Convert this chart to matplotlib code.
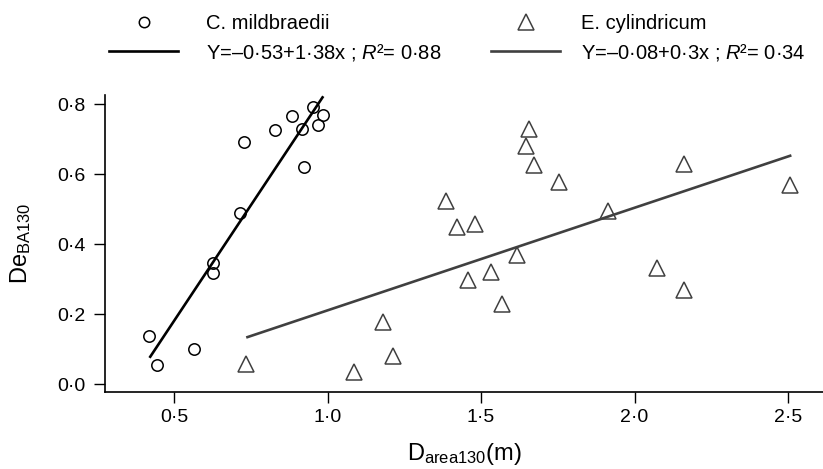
import matplotlib.pyplot as plt
from matplotlib.lines import Line2D
from matplotlib.ticker import FuncFormatter

plt.rcParams['font.family'] = ['Liberation Sans', 'DejaVu Sans']
plt.rcParams['mathtext.fontset'] = 'custom'
plt.rcParams['mathtext.rm'] = 'Liberation Sans'
plt.rcParams['mathtext.it'] = 'Liberation Sans:italic'

# C. mildbraedii (circles)
cm_x = [0.419, 0.444, 0.564, 0.628, 0.628, 0.715, 0.727, 0.828, 0.883, 0.918, 0.923, 0.954, 0.969, 0.986]
cm_y = [0.137, 0.055, 0.099, 0.345, 0.318, 0.488, 0.692, 0.726, 0.767, 0.730, 0.621, 0.791, 0.740, 0.770]
cm_fit_x = [0.420, 0.986]
cm_fit_y = [0.075, 0.823]

# E. cylindricum (triangles)
ec_x = [0.735, 1.085, 1.181, 1.213, 1.387, 1.422, 1.459, 1.480, 1.534, 1.568,
        1.616, 1.648, 1.655, 1.673, 1.755, 1.915, 2.074, 2.161, 2.162, 2.508]
ec_y = [0.057, 0.035, 0.178, 0.080, 0.523, 0.448, 0.297, 0.459, 0.321, 0.230,
        0.370, 0.680, 0.728, 0.625, 0.578, 0.494, 0.332, 0.630, 0.270, 0.568]
ec_fit_x = [0.735, 2.511]
ec_fit_y = [0.133, 0.654]

xticks = [0.5, 1.0, 1.5, 2.0, 2.5]
yticks = [0.0, 0.2, 0.4, 0.6, 0.8]

grey = '#404040'

fig = plt.figure(figsize=(8.23, 4.69), dpi=100)
ax = fig.add_axes([0.1276, 0.164, 0.8724, 0.633])

ax.plot(cm_x, cm_y, 'o', ms=8.2, mfc='none', mec='black', mew=1.1)
ax.plot(ec_x, ec_y, '^', ms=11, mfc='none', mec=grey, mew=1.1)
ax.plot(cm_fit_x, cm_fit_y, color='black', lw=1.9, solid_capstyle='butt')
ax.plot(ec_fit_x, ec_fit_y, color=grey, lw=1.9, solid_capstyle='butt')

ax.set_xlim(0.275, 2.614)
ax.set_ylim(-0.023, 0.826)
ax.set_xticks(xticks)
ax.set_yticks(yticks)
dot = FuncFormatter(lambda v, p: f"{v:.1f}".replace('.', '·'))
ax.xaxis.set_major_formatter(dot)
ax.yaxis.set_major_formatter(dot)
ax.tick_params(axis='x', length=8, width=1.0, labelsize=14, pad=4.5)
ax.tick_params(axis='y', length=8, width=1.0, labelsize=14, pad=6)
for s in ['top', 'right']:
    ax.spines[s].set_visible(False)
for s in ['left', 'bottom']:
    ax.spines[s].set_linewidth(1.2)

ax.set_xlabel(r'D$_{\mathrm{area130}}$(m)', fontsize=17, labelpad=10.5)
ax.set_ylabel(r'De$_{\mathrm{BA130}}$', fontsize=17, labelpad=17.5)

leg_kw = dict(loc='upper left', frameon=False, fontsize=14.5, handlelength=3.45,
              labelspacing=0.45, borderpad=0, borderaxespad=0)
h1 = [Line2D([], [], ls='none', marker='o', ms=7.5, mfc='none', mec='black', mew=1.1),
      Line2D([], [], color='black', lw=1.9)]
l1 = ['C. mildbraedii', 'Y=–0·53+1·38x ; $R$²= 0·88']
h2 = [Line2D([], [], ls='none', marker='^', ms=11, mfc='none', mec=grey, mew=1.1),
      Line2D([], [], color=grey, lw=1.9)]
l2 = ['E. cylindricum', 'Y=–0·08+0·3x ; $R$²= 0·34']
fig.legend(h1, l1, bbox_to_anchor=(109 / 823, 0.9706), handletextpad=1.35, **leg_kw)
fig.legend(h2, l2, bbox_to_anchor=(491 / 823, 0.9706), handletextpad=1.0, **leg_kw)

fig.savefig('out.png', dpi=100)
